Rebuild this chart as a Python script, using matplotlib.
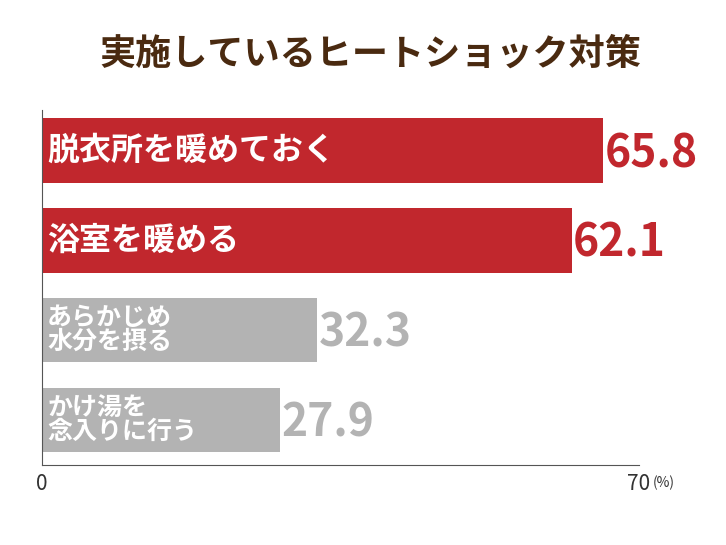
import matplotlib
matplotlib.use("Agg")
import matplotlib.pyplot as plt

plt.rcParams["font.family"] = "Noto Sans CJK JP"

title = "実施しているヒートショック対策"
labels = ["脱衣所を暖めておく", "浴室を暖める", "あらかじめ\n水分を摂る", "かけ湯を\n念入りに行う"]
values = [65.8, 62.1, 32.3, 27.9]
colors = ["#c1272d", "#c1272d", "#b3b3b3", "#b3b3b3"]
label_sizes = [23, 23, 18, 18]

fig = plt.figure(figsize=(7.26, 5.45), dpi=100)
ax = fig.add_axes([0.058, 0.147, 0.822, 0.651])

ypos = list(range(len(values)))
ax.barh(ypos, values, height=0.72, color=colors)

for y, v, lab, c, fs in zip(ypos, values, labels, colors, label_sizes):
    ax.text(0.6, y, lab, color="white", fontsize=fs, fontweight="bold",
            va="center", ha="left", linespacing=1.0)
    ax.text(v + 0.2, y + 0.04, f"{v:.1f}", color=c, fontsize=32,
            fontweight="bold", va="center", ha="left")

ax.set_xlim(0, 70)
ax.set_ylim(3.5, -0.45)
ax.set_xticks([0, 70])
ax.set_xticklabels(["0", "70"], fontsize=15, color="#333333")
ax.tick_params(axis="x", length=0, pad=6)
ax.set_yticks([])
for s in ["top", "right"]:
    ax.spines[s].set_visible(False)
ax.spines["left"].set_color("#555555")
ax.spines["bottom"].set_color("#555555")
ax.text(72.0, 3.5, "(%)", fontsize=10, color="#333333", va="top",
        ha="left", transform=ax.transData).set_position((71.6, 3.62))

fig.text(0.51, 0.9, title, fontsize=26, fontweight="bold", color="#4a2a10",
         ha="center", va="center")

fig.savefig("out.png", dpi=100)
